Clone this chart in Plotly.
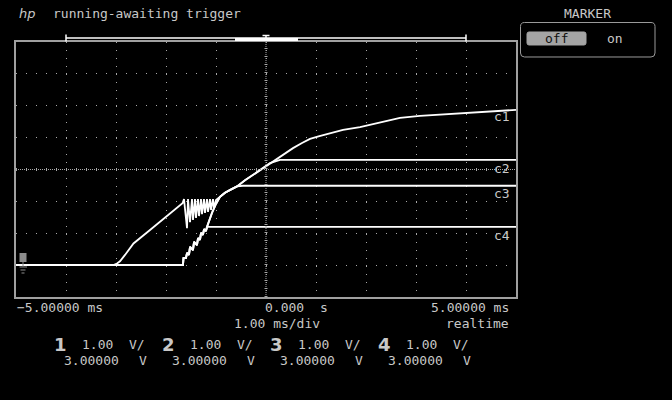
import plotly.graph_objects as go

# ---------------- data (time in ms, voltage in V) ----------------
c1_t = [-5.0, -3.05, -2.98, -2.92, -2.82, -2.65, -2.32, -1.99, -1.67,
        -1.64, -1.58, -1.56, -1.52, -1.48, -1.46, -1.42, -1.40, -1.36, -1.34,
        -1.30, -1.28, -1.24, -1.22, -1.18, -1.16, -1.12, -1.10, -1.06, -1.04,
        -1.0, -0.92, -0.82, -0.72, -0.58, -0.42, -0.26, -0.12, 0.08, 0.28, 0.42, 0.54,
        0.72, 0.88, 1.05, 1.22, 1.38, 1.54, 1.88, 2.22, 2.68, 3.08, 3.68, 4.28, 5.0]
c1_v = [0.0, 0.0, 0.05, 0.12, 0.32, 0.68, 1.10, 1.52, 1.94,
        2.07, 1.16, 2.07, 1.35, 2.07, 1.42, 2.07, 1.48, 2.07, 1.54,
        2.07, 1.60, 2.07, 1.64, 2.07, 1.67, 2.07, 1.73, 2.07, 1.79,
        2.04, 2.14, 2.27, 2.36, 2.47, 2.66, 2.83, 2.99, 3.20, 3.40, 3.55, 3.67,
        3.83, 3.96, 4.04, 4.11, 4.18, 4.24, 4.33, 4.46, 4.62, 4.68, 4.74, 4.80, 4.87]

stair_t = [-5.0, -1.66, -1.65, -1.60, -1.58, -1.54, -1.52, -1.46, -1.44,
           -1.38, -1.36, -1.32, -1.30, -1.26, -1.24, -1.20, -1.18]
stair_v = [0.0, 0.0, 0.22, 0.22, 0.38, 0.32, 0.57, 0.47, 0.73,
           0.63, 0.85, 0.79, 1.01, 0.95, 1.13, 1.07, 1.20]

c2_t = stair_t + [-1.14, -1.08, -1.0, -0.92, -0.82, -0.72, -0.58, -0.42, -0.26, -0.12, 0.08, 0.28, 5.0]
c2_v = stair_v + [1.38, 1.64, 1.92, 2.14, 2.27, 2.36, 2.47, 2.66, 2.83, 2.99, 3.20, 3.30, 3.30]

c3_t = stair_t + [-1.14, -1.08, -1.0, -0.92, -0.82, -0.72, -0.58, -0.46, 5.0]
c3_v = stair_v + [1.38, 1.64, 1.92, 2.14, 2.27, 2.36, 2.47, 2.49, 2.49]

c4_t = stair_t + [5.0]
c4_v = stair_v + [1.20]

trace_names = ["c1", "c2", "c3", "c4"]
trace_label_y = [117, 168, 193, 235]          # pixel rows of c-labels

ch_numbers = ["1", "2", "3", "4"]
ch_scale = ["1.00", "1.00", "1.00", "1.00"]
ch_offset = ["3.00000", "3.00000", "3.00000", "3.00000"]

# ---------------- layout helpers ----------------
W, H = 672, 400
L, R, T, B = 16, 516, 42, 297
def PX(px): return (px - L) / (R - L)
def PY(py): return (B - py) / (B - T)

GRAY = "#c8c8c8"
DOT = "#a8a8a8"
MONO = "DejaVu Sans Mono"

fig = go.Figure()
for t, v, n in [(c1_t, c1_v, "c1"), (c2_t, c2_v, "c2"), (c3_t, c3_v, "c3"), (c4_t, c4_v, "c4")]:
    fig.add_trace(go.Scatter(x=t, y=v, mode="lines", name=n,
                             line=dict(color="white", width=1.8),
                             hoverinfo="skip", showlegend=False))

shapes = []
# center dotted lines
shapes.append(dict(type="line", xref="paper", yref="paper", x0=0.5, x1=0.5, y0=0, y1=1,
                   line=dict(color=DOT, width=1, dash="1px,1px")))
shapes.append(dict(type="line", xref="paper", yref="paper", x0=0.5, x1=0.5, y0=0, y1=1,
                   line=dict(color=DOT, width=3, dash="1px,7px")))
shapes.append(dict(type="line", xref="paper", yref="paper", x0=0, x1=1, y0=0.5, y1=0.5,
                   line=dict(color=DOT, width=1, dash="1px,1px")))
shapes.append(dict(type="line", xref="paper", yref="paper", x0=0, x1=1, y0=0.5, y1=0.5,
                   line=dict(color=DOT, width=3, dash="1px,9px")))

def pline(x0, y0, x1, y1, color="white", width=1.5):
    shapes.append(dict(type="line", xref="paper", yref="paper",
                       x0=PX(x0), y0=PY(y0), x1=PX(x1), y1=PY(y1),
                       line=dict(color=color, width=width)))
def prect(x0, y0, x1, y1, fill, line_color=None, lw=0):
    shapes.append(dict(type="rect", xref="paper", yref="paper",
                       x0=PX(x0), y0=PY(y0), x1=PX(x1), y1=PY(y1),
                       fillcolor=fill, line=dict(color=line_color or fill, width=lw)))

# top window bar
pline(66, 38, 466, 38)
pline(66, 34.5, 66, 41.5)
pline(466, 34.5, 466, 41.5)
prect(235, 38, 298, 41, "white")
pline(262.5, 35.5, 269.5, 35.5)
pline(266, 35.5, 266, 39)

# ground marker
prect(19.5, 253, 26.5, 262, "#8c8c8c")
pline(23, 262, 23, 266.5, color="#8c8c8c", width=1)
pline(19.5, 267, 27, 267, color="#8c8c8c", width=1)
pline(20.5, 270, 25.5, 270, color="#8c8c8c", width=1)
pline(21.5, 273, 24.5, 273, color="#8c8c8c", width=1)

# marker box (rounded)
def rrect_path(x0, y0, x1, y1, r):
    def P(x, y): return f"{PX(x):.5f},{PY(y):.5f}"
    return (f"M{P(x0 + r, y0)} L{P(x1 - r, y0)} Q{P(x1, y0)} {P(x1, y0 + r)} "
            f"L{P(x1, y1 - r)} Q{P(x1, y1)} {P(x1 - r, y1)} L{P(x0 + r, y1)} "
            f"Q{P(x0, y1)} {P(x0, y1 - r)} L{P(x0, y0 + r)} Q{P(x0, y0)} {P(x0 + r, y0)} Z")
shapes.append(dict(type="path", xref="paper", yref="paper",
                   path=rrect_path(520.5, 22.5, 655, 57, 4),
                   line=dict(color="#9a9a9a", width=1)))
shapes.append(dict(type="path", xref="paper", yref="paper",
                   path=rrect_path(527, 32, 586, 45, 2),
                   fillcolor="#a4a4a4", line=dict(color="#a4a4a4", width=1)))

annotations = []
def txt(x, y, s, anchor="left", size=13, color=GRAY, family=MONO):
    annotations.append(dict(x=PX(x), y=PY(y), xref="paper", yref="paper", text=s,
                            showarrow=False, xanchor=anchor, yanchor="middle",
                            font=dict(family=family, size=size, color=color)))

txt(17, 14, "<i>hp</i>", size=13, family="DejaVu Sans")
txt(51, 14, "running-awaiting trigger")
txt(587, 14, "MARKER", anchor="center")
txt(556, 38.5, "off", anchor="center", color="#101010")
txt(615, 38.5, "on", anchor="center")

txt(15, 307, "\u22125.00000 ms")
txt(263, 307, "0.000")
txt(318, 307, "s")
txt(511, 307, "5.00000 ms", anchor="right")
txt(232, 323, "1.00 ms/div")
txt(511, 323, "realtime", anchor="right")

for i, (n, s, o) in enumerate(zip(ch_numbers, ch_scale, ch_offset)):
    dx = 108 * i
    txt(52 + dx, 344, f"<b>{n}</b>", size=18, family="DejaVu Sans")
    txt(80 + dx, 344, s)
    txt(127 + dx, 344, "V/")
    txt(62 + dx, 360, o)
    txt(137 + dx, 360, "V")

for n, yy in zip(trace_names, trace_label_y):
    txt(512, yy, n, anchor="right")

fig.update_layout(
    width=W, height=H,
    paper_bgcolor="black", plot_bgcolor="black",
    margin=dict(l=L, r=W - R, t=T, b=H - B),
    showlegend=False,
    xaxis=dict(range=[-5, 5], dtick=1, showticklabels=False, ticks="",
               showgrid=True, gridcolor=DOT, gridwidth=1, griddash="1px,7px",
               zeroline=False, showline=True, linecolor="#a0a0a0", linewidth=1.5,
               mirror=True, fixedrange=True),
    yaxis=dict(range=[-1, 7], dtick=1, showticklabels=False, ticks="",
               showgrid=True, gridcolor=DOT, gridwidth=1, griddash="1px,9px",
               zeroline=False, showline=True, linecolor="#a0a0a0", linewidth=1.5,
               mirror=True, fixedrange=True),
    shapes=shapes,
    annotations=annotations,
)

fig.write_html("out.html", config={"displayModeBar": False},
               post_script="document.body.style.margin='0';document.body.style.background='black';document.body.style.overflow='hidden';")
